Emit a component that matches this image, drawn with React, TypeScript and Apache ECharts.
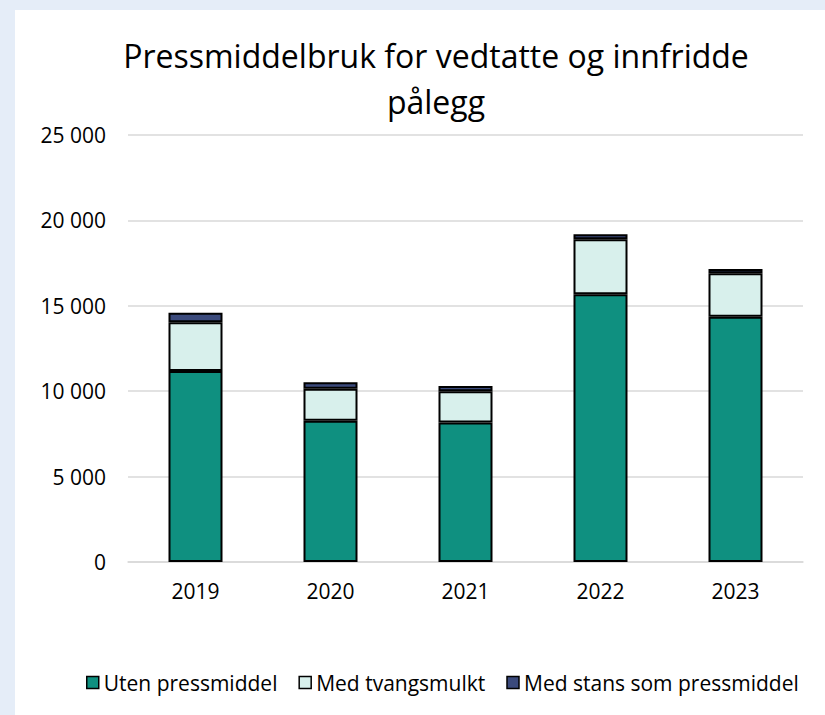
import React, { useEffect, useRef } from "react";
import * as echarts from "echarts";

const years = ["2019", "2020", "2021", "2022", "2023"];
const utenPressmiddel = [11180, 8270, 8170, 15670, 14360];
const medTvangsmulkt = [2850, 1870, 1820, 3220, 2545];
const medStans = [570, 380, 310, 300, 250];
const seriesNames = ["Uten pressmiddel", "Med tvangsmulkt", "Med stans som pressmiddel"];
const seriesColors = ["#0f9080", "#d8f0ec", "#3b4a7c"];

const FONT = "'Open Sans', 'Noto Sans', sans-serif";

export default function App() {
  const ref = useRef<HTMLDivElement>(null);
  useEffect(() => {
    document.body.style.margin = "0";
    const chart = echarts.init(ref.current!, null, { renderer: "svg" });
    const data = [utenPressmiddel, medTvangsmulkt, medStans];
    chart.setOption({
      animation: false,
      backgroundColor: "#ffffff",
      textStyle: { fontFamily: FONT },
      title: {
        text: "Pressmiddelbruk for vedtatte og innfridde\npålegg",
        left: 416,
        textAlign: "center",
        top: 17,
        textStyle: { fontSize: 32, fontWeight: "normal", color: "#000", lineHeight: 46, fontFamily: FONT },
      },
      legend: {
        left: 66,
        top: 657,
        itemWidth: 12,
        itemHeight: 12,
        itemGap: 21,
        icon: "rect",
        textStyle: { fontSize: 21, color: "#000" },
        itemStyle: { borderColor: "#000", borderWidth: 1.5 },
        data: seriesNames,
      },
      grid: { left: 113, right: 22, top: 125, bottom: 153 },
      xAxis: {
        type: "category",
        data: years,
        axisLine: { lineStyle: { color: "#d9d9d9", width: 1.5 } },
        axisTick: { show: false },
        axisLabel: { fontSize: 21, color: "#000", margin: 18 },
      },
      yAxis: {
        type: "value",
        min: 0,
        max: 25000,
        interval: 5000,
        axisLine: { show: false },
        axisTick: { show: false },
        splitLine: { lineStyle: { color: "#d9d9d9", width: 1.5 } },
        axisLabel: {
          fontSize: 21,
          color: "#000",
          margin: 22,
          formatter: (v: number) => String(v).replace(/\B(?=(\d{3})+(?!\d))/g, " "),
        },
      },
      series: seriesNames.map((name, i) => ({
        name,
        type: "bar",
        stack: "total",
        barWidth: "40%",
        data: data[i],
        itemStyle: { color: seriesColors[i], borderColor: "#000", borderWidth: 2 },
      })),
    });
    return () => chart.dispose();
  }, []);
  return (
    <div style={{ position: "fixed", left: 0, top: 0, width: 825, height: 715, background: "#e5edf8" }}>
      <div ref={ref} style={{ position: "absolute", left: 15, top: 10, width: 810, height: 705 }} />
    </div>
  );
}
